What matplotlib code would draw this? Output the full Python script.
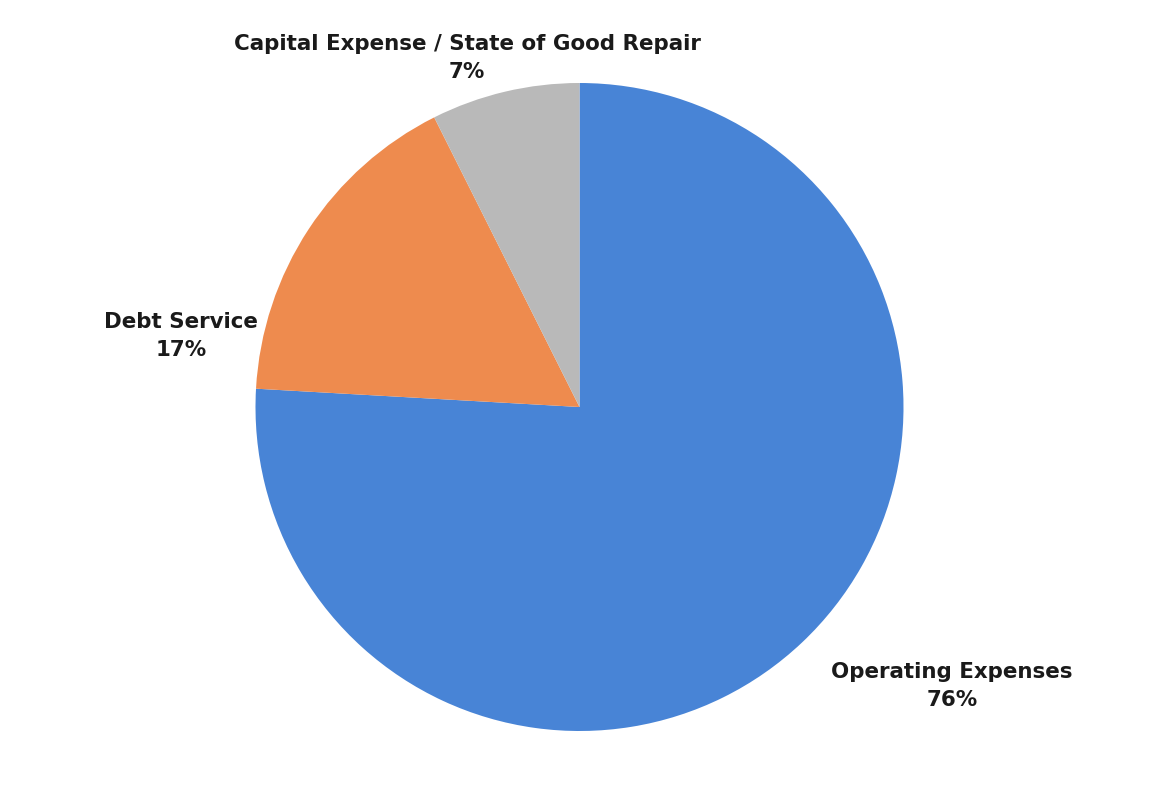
import matplotlib
matplotlib.use("Agg")
import matplotlib.pyplot as plt

categories = ["Operating Expenses", "Debt Service", "Capital Expense / State of Good Repair"]
values = [75.9, 16.7, 7.4]
colors = ["#4884d6", "#ee8b4e", "#b9b9b9"]
label_pos = [(952, 126), (181, 476), (467, 754)]

W, H = 1157, 812
fig = plt.figure(figsize=(W / 100, H / 100), dpi=100)
ax = fig.add_axes([0, 0, 1, 1])
ax.set_xlim(0, W)
ax.set_ylim(0, H)
ax.set_aspect("equal")
ax.axis("off")

ax.pie(values, colors=colors, startangle=90, counterclock=False,
       center=(579.5, 404), radius=324, frame=True,
       wedgeprops=dict(linewidth=0))
ax.set_xlim(0, W)
ax.set_ylim(0, H)
ax.axis("off")

total = sum(values)
for cat, v, (x, y) in zip(categories, values, label_pos):
    ax.text(x, y, f"{cat}\n{round(v / total * 100):d}%", ha="center", va="center",
            fontsize=15.4, fontweight="heavy", color="#1a1a1a",
            family="DejaVu Sans", linespacing=1.45)

fig.savefig("out.png", dpi=100, facecolor="white")
